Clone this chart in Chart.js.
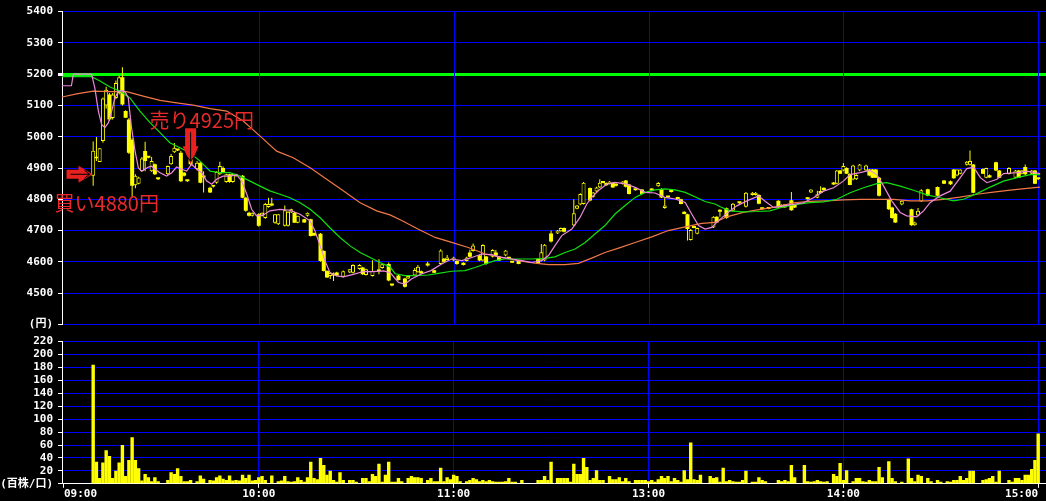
<!DOCTYPE html>
<html>
<head>
<meta charset="utf-8">
<script src="https://cdn.jsdelivr.net/npm/chart.js@4.4.0/dist/chart.umd.min.js"></script>
<style>
  html, body { margin: 0; padding: 0; background: #000; }
  #wrap { position: relative; width: 1046px; height: 501px; overflow: hidden; }
  .box { position: absolute; left: 0; width: 1046px; }
</style>
</head>
<body>
<div id="wrap">
  <div class="box" style="top:0;height:336px"><canvas id="price"></canvas></div>
  <div class="box" style="top:330px;height:171px"><canvas id="vol"></canvas></div>
</div>
<script>
// x = minutes of trading since 09:00 (11:30 and 12:30 share 150)
const hourMin = [0, 60, 120, 180, 240, 300];
const hourLab = ['09:00', '10:00', '11:00', '13:00', '14:00', '15:00'];

// 1-minute candles
const candleMin = [9,10,11,12,13,14,15,16,17,18,19,20,21,22,23,24,25,26,27,28,29,32,33,34,35,36,37,38,39,41,42,43,45,46,47,48,49,50,51,52,53,55,56,57,58,60,61,62,63,64,65,66,68,69,70,71,72,74,75,76,77,79,80,81,82,83,84,86,88,89,91,92,93,95,97,98,100,
  101,103,105,106,108,109,110,112,114,116,117,118,120,121,123,124,125,126,128,129,130,132,133,134,136,137,138,140,146,147,148,
  150,152,153,154,157,158,159,160,162,163,164,165,166,167,168,169,170,172,173,174,176,178,181,183,184,185,186,187,189,190,191,192,193,194,195,200,
  201,202,204,206,208,210,212,213,214,215,217,220,221,222,224,225,229,230,232,233,234,237,238,239,240,241,242,243,244,245,247,248,249,250,251,254,255,256,258,261,262,263,264,266,269,271,273,274,275,276,278,279,280,283,284,285,287,288,291,293,294,295,296,298,299,300];
const openP = [4875,4930,4919,4986,5100,5135,5060,5124,5140,5190,5082,5055,4990,4845,4850,4890,4954,4933,4890,4912,4866,4880,4912,4950,4958,4949,4885,4860,4933,4896,4917,4875,4837,4840,4853,4880,4900,4855,4880,4855,4874,4875,4805,4757,4747,4752,4747,4740,4775,4780,4725,4720,4715,4715,4758,4757,4725,4736,4747,4736,4692,4690,4635,4571,4555,4560,4566,4552,4566,4565,4577,4582,4558,4555,4570,4580,4593,
  4524,4556,4547,4547,4556,4567,4570,4590,4573,4593,4610,4606,4604,4603,4597,4603,4630,4635,4620,4604,4617,4616,4630,4617,4620,4611,4598,4604,4609,4604,4604,
  4691,4691,4698,4708,4716,4770,4783,4785,4836,4808,4825,4838,4852,4852,4849,4852,4849,4849,4860,4847,4829,4831,4832,4842,4833,4772,4806,4823,4806,4800,4760,4752,4670,4708,4690,4710,
  4744,4760,4771,4763,4787,4776,4814,4814,4814,4772,4769,4795,4782,4774,4797,4782,4800,4822,4805,4820,4837,4853,4850,4892,4892,4900,4881,4863,4864,4892,4892,4895,4895,4895,4869,4800,4774,4754,4783,4768,4717,4748,4793,4832,4839,4860,4858,4895,4876,4882,4910,4910,4911,4897,4869,4877,4918,4892,4881,4869,4892,4882,4903,4882,4892,4864];
const highP = [4985,4999,4963,5125,5160,5140,5140,5180,5195,5222,5085,5060,4995,4880,4872,4935,4984,4935,4935,4914,4866,4908,4945,4980,4960,4955,4887,4860,4935,4922,4920,4890,4840,4846,4890,4920,4905,4882,4882,4882,4882,4878,4808,4760,4758,4755,4758,4788,4805,4805,4752,4752,4780,4762,4770,4760,4747,4738,4758,4738,4694,4692,4637,4573,4566,4566,4568,4572,4577,4592,4592,4584,4578,4605,4608,4595,4598,
  4526,4558,4549,4556,4580,4590,4572,4600,4575,4640,4612,4622,4616,4605,4599,4616,4639,4659,4622,4656,4619,4640,4638,4619,4638,4612,4599,4606,4611,4657,4657,
  4700,4702,4710,4710,4800,4782,4819,4855,4838,4823,4840,4864,4853,4854,4858,4854,4851,4858,4862,4849,4830,4833,4835,4855,4835,4806,4807,4828,4808,4802,4762,4754,4705,4709,4710,4746,
  4746,4768,4774,4788,4788,4823,4823,4823,4816,4774,4770,4797,4784,4784,4823,4784,4807,4832,4827,4842,4838,4855,4894,4894,4916,4902,4883,4910,4880,4913,4910,4897,4897,4897,4871,4802,4776,4756,4797,4770,4728,4772,4832,4834,4841,4862,4860,4897,4896,4896,4922,4956,4913,4899,4901,4879,4920,4894,4902,4894,4894,4894,4911,4894,4894,4866];
const lowP = [4843,4922,4919,4981,5090,5050,5055,5120,5135,5100,5060,4945,4805,4835,4848,4888,4890,4931,4888,4878,4862,4878,4910,4948,4954,4855,4873,4856,4910,4893,4851,4822,4820,4838,4850,4878,4883,4853,4853,4853,4872,4803,4760,4745,4745,4712,4745,4738,4773,4778,4722,4718,4713,4713,4756,4725,4723,4725,4745,4681,4683,4600,4569,4548,4545,4539,4554,4550,4564,4563,4575,4558,4556,4553,4560,4578,4538,
  4522,4540,4518,4545,4554,4565,4562,4585,4564,4591,4598,4604,4602,4591,4588,4601,4614,4633,4602,4602,4591,4614,4618,4603,4618,4609,4596,4592,4593,4602,4602,
  4662,4689,4696,4694,4714,4768,4781,4783,4794,4806,4823,4836,4851,4843,4847,4837,4841,4847,4838,4815,4828,4816,4826,4840,4804,4770,4805,4822,4800,4784,4752,4668,4668,4707,4688,4708,
  4724,4744,4738,4761,4786,4774,4812,4812,4784,4766,4768,4772,4772,4772,4763,4772,4799,4820,4803,4819,4828,4846,4848,4881,4890,4881,4845,4861,4862,4890,4890,4874,4868,4868,4809,4766,4738,4724,4781,4715,4715,4746,4791,4810,4809,4849,4846,4866,4874,4880,4908,4908,4819,4881,4867,4869,4890,4868,4879,4867,4868,4880,4878,4880,4849,4862];
const closeP = [4955,4935,4963,5122,5150,5055,5135,5172,5190,5103,5061,4949,4843,4875,4870,4930,4922,4933,4922,4880,4864,4906,4938,4965,4956,4858,4875,4858,4912,4917,4853,4870,4822,4845,4887,4906,4885,4880,4855,4880,4880,4805,4763,4747,4757,4715,4757,4785,4785,4780,4752,4752,4765,4760,4768,4725,4747,4726,4757,4683,4684,4603,4571,4550,4564,4556,4556,4570,4576,4590,4590,4560,4576,4571,4575,4592,4540,
  4524,4542,4520,4555,4574,4584,4563,4588,4565,4636,4600,4614,4614,4593,4590,4614,4616,4652,4604,4654,4593,4638,4620,4604,4636,4610,4597,4593,4595,4631,4655,
  4665,4700,4708,4696,4755,4780,4817,4853,4796,4822,4838,4853,4852,4845,4857,4838,4843,4857,4840,4817,4829,4817,4828,4852,4806,4780,4806,4823,4801,4785,4753,4705,4702,4708,4708,4744,
  4726,4760,4740,4786,4787,4821,4821,4821,4786,4768,4769,4774,4774,4784,4765,4774,4800,4831,4816,4820,4829,4847,4892,4882,4906,4882,4846,4908,4878,4911,4908,4876,4869,4869,4811,4768,4740,4726,4795,4717,4726,4763,4829,4811,4811,4850,4848,4867,4895,4895,4920,4922,4821,4882,4900,4870,4892,4869,4900,4892,4869,4892,4880,4892,4850,4864];

// moving averages (pink = short, green = middle, orange = long)
const maShortMin = [-0.6,2.3,2.9,8.5,9.5,10.6,11.6,12.6,13.7,14.7,15.7,16.7,17.8,18.8,19.8,20.8,21.9,22.9,23.9,24.9,26,27,28,29.6,31.6,33.2,34.7,36.2,37.8,39.3,40.9,42.4,43.9,45.5,47,49,51.1,53.2,54.7,56.3,57.8,59.3,61.4,63.4,66.5,69.6,72.7,75.8,77.3,78.9,80.4,81.9,84,86,89.1,92.2,95.3,98.4,
  100.5,103,105,107,110,113,116.3,119.4,122.5,125.6,128.6,131.7,134.8,137.9,141,144,147.1,149.2,151.2,153.3,156.4,158.9,161,162.5,164.6,167.2,169.7,172.8,175.9,179,182,185,188.2,191.3,193.3,195.4,197.4,
  199.5,201,204.1,207.2,210.3,213.9,216,218.5,221.5,224.6,227.7,230.8,233.9,237,240,242.1,245.1,248.1,250.3,252.4,254.9,257.5,259.5,262.6,264.7,266.7,269.8,272.9,276,278,280.1,282.2,284.2,287.3,289.3,293.5,296.5,300.6];
const maShortVal = [5163,5163,5200,5200,5156,5082,5039,5029,5045,5082,5125,5144,5148,5144,5125,5029,4954,4901,4890,4896,4903,4906,4896,4885,4874,4885,4903,4896,4890,4912,4896,4885,4859,4848,4864,4874,4874,4878,4859,4816,4768,4747,4750,4763,4768,4765,4752,4731,4699,4651,4603,4566,4555,4552,4560,4569,4569,4571,
  4565,4534,4529,4545,4561,4572,4593,4609,4604,4614,4625,4623,4614,4609,4604,4598,4604,4620,4652,4684,4705,4742,4785,4806,4828,4849,4854,4849,4838,4822,4820,4806,4801,4790,4753,4716,4705,
  4710,4726,4755,4779,4795,4811,4793,4774,4779,4784,4789,4805,4826,4837,4858,4879,4885,4892,4879,4842,4795,4758,4747,4744,4763,4789,4811,4826,4869,4898,4903,4869,4853,4864,4882,4885,4890,4882];
const maMidMin = [-0.6,8.5,11.1,14.2,17.2,20.3,23.4,26.5,29.6,32.6,35.7,38.8,41.9,45,48,51.1,54.2,57.3,60.4,63.4,66.5,69.6,72.7,75.8,78.9,81.9,85,88.1,91.2,94.3,97.3,100.4,
  102,105,108,112.2,115.3,119.4,123.5,126.6,129.6,132.7,135.8,139.9,144,148.1,151.2,154.3,157.4,160.5,163.5,166.6,169.7,172.8,175.9,179,182,185.1,188.2,191.3,194.3,197.4,200.5,
  202.1,205.1,209.2,213.3,217.4,221.6,225.7,229.8,233.9,238,242.1,246.2,250.3,253.4,257.5,261.6,265.7,269.8,273.9,277,281.1,285.2,289.3,293.5,297.5,300.6];
const maMidVal = [5192,5192,5178,5159,5146,5124,5082,5045,5013,4981,4965,4949,4922,4890,4885,4885,4874,4858,4842,4827,4816,4805,4789,4768,4741,4709,4678,4651,4630,4614,4598,4584,
  4562,4556,4556,4558,4563,4570,4572,4582,4593,4604,4609,4609,4609,4611,4616,4630,4641,4662,4689,4716,4753,4780,4806,4822,4830,4833,4830,4822,4808,4793,4785,
  4776,4763,4760,4761,4763,4776,4784,4789,4792,4800,4821,4837,4850,4853,4842,4829,4814,4805,4795,4800,4818,4839,4858,4869,4879,4879];
const maLongMin = [-0.6,3.9,9,14.2,19.3,24.4,29.6,34.7,39.8,45,50.1,55.2,60.4,65.5,70.6,75.8,80.9,86,91.2,96.3,100.4,104,109,114.3,119.4,124.5,129.7,134.8,139.9,145,149.2,154.3,158.4,162.5,166.6,170.8,175.9,181,186.1,191.3,196.4,200.5,
  204.1,209.2,214.4,219.5,224.6,229.8,234.9,240,245.2,250.3,255.5,260.6,265.7,270.8,275.9,281.1,286.2,291.4,296.5,300.6];
const maLongVal = [5127,5137,5146,5144,5144,5130,5116,5108,5101,5090,5082,5050,5002,4954,4933,4901,4864,4827,4789,4763,4750,4732,4705,4678,4662,4646,4625,4614,4604,4596,4591,4591,4595,4612,4630,4644,4662,4680,4700,4712,4723,4726,
  4744,4758,4768,4776,4789,4793,4795,4798,4800,4800,4800,4795,4795,4800,4807,4816,4823,4829,4835,4839];

// volume (hundreds of shares)
const volMin = [9,10,11,12,13,14,15,16,17,18,19,20,21,22,23,24,25,26,27,28,29,32,33,34,35,36,37,38,39,41,42,43,45,46,47,48,49,50,51,52,53,54,55,56,57,58,59,60,
  61,62,64,66,67,68,69,70,71,72,73,74,75,76,77,78,79,80,81,82,83,84,85,86,88,89,90,92,93,94,95,96,97,98,99,100,101,102,103,104,106,107,108,109,110,112,113,114,115,116,117,118,119,120,121,122,124,125,126,127,128,129,130,131,132,133,134,135,136,137,138,139,141,146,147,148,149,
  150,152,153,154,155,156,157,158,159,160,161,162,163,164,165,166,168,169,170,171,172,173,174,176,177,178,179,180,181,182,183,184,185,186,187,188,189,190,191,192,193,194,195,196,199,200,
  201,202,203,204,205,206,207,208,209,210,212,213,214,215,216,220,221,222,223,224,225,228,229,230,231,232,233,234,235,237,238,239,240,241,243,244,245,246,247,248,249,250,251,252,254,255,256,258,260,261,262,263,264,266,267,269,270,272,273,274,275,276,277,278,279,280,283,284,285,286,287,288,291,292,293,294,295,296,297,298,299,300];
const volVal = [184,34,9,33,52,43,9,20,33,60,12,37,72,37,24,5,15,10,4,10,4,6,18,15,24,12,4,4,6,4,13,8,6,5,10,13,8,6,13,5,6,5,14,9,14,5,6,10,
  12,6,13,4,5,12,4,3,4,10,6,3,10,34,9,7,40,29,14,20,6,3,18,6,6,6,3,9,9,4,15,12,31,3,14,34,3,3,9,4,9,12,10,10,9,6,9,4,4,25,4,10,7,14,12,4,4,6,9,7,4,6,4,6,4,3,3,3,4,9,3,3,6,6,6,12,6,
  34,9,9,9,9,3,31,15,15,40,26,6,9,21,6,6,12,7,7,10,4,9,4,6,6,6,6,4,6,3,7,12,9,12,4,9,6,3,21,7,64,7,6,14,12,9,
  10,3,25,4,6,4,3,3,6,20,3,3,10,6,4,6,4,6,4,29,10,29,4,3,4,6,4,3,4,15,12,32,6,21,4,9,9,4,3,6,4,4,26,10,35,9,4,3,39,9,4,14,12,9,4,6,3,4,3,6,6,12,6,9,20,20,6,7,9,12,3,20,6,3,9,9,6,14,14,23,37,78];

// trades marked on the chart
const buyMin = 8.8, buyPrice = 4880, buyText = '買い4880円';
const sellMin = 39, sellPrice = 4925, sellText = '売り4925円';

const tickFont = { family: '"DejaVu Sans Mono", "Noto Sans CJK JP", monospace', size: 11, weight: 'bold' };
const yellow = '#ffff00';
const blue = '#0000ff';
const clear = 'rgba(0,0,0,0)';

const wicks = [], upBodies = [], downBodies = [];
candleMin.forEach((m, i) => {
  wicks.push({ x: m, y: [lowP[i], highP[i]] });
  const body = { x: m, y: [openP[i], closeP[i]] };
  if (closeP[i] > openP[i]) upBodies.push(body); else downBodies.push(body);
});
const pts = (xs, ys) => xs.map((x, i) => ({ x: x, y: ys[i] }));

function xAxis(withLabels) {
  return {
    type: 'linear', min: -0.6, max: 302.4, offset: false,
    afterBuildTicks: s => { s.ticks = hourMin.map(v => ({ value: v })); },
    grid: {
      display: withLabels, offset: false,
      color: c => (c.tick && c.tick.value > 0) ? blue : clear,
      tickColor: '#fff', tickLength: 4
    },
    border: { display: withLabels, color: '#fff' },
    ticks: {
      display: withLabels, align: 'inner', padding: 0, color: '#fff', font: tickFont,
      maxRotation: 0, autoSkip: false,
      callback: v => hourLab[hourMin.indexOf(v)]
    }
  };
}

// hour lines of the price panel, placed through the x scale
const hourLines = {
  id: 'hourLines',
  beforeDatasetsDraw(chart) {
    const { ctx, chartArea: a, scales: { x } } = chart;
    ctx.save();
    ctx.strokeStyle = blue;
    ctx.lineWidth = 1;
    hourMin.filter(v => v > 0).forEach(v => {
      const px = Math.round(x.getPixelForValue(v)) + 0.5;
      ctx.beginPath();
      ctx.moveTo(px, a.top);
      ctx.lineTo(px, a.bottom);
      ctx.stroke();
    });
    ctx.restore();
  }
};

function drawRightArrow(ctx, tx, ty) {
  ctx.fillStyle = '#e82020';
  ctx.beginPath();
  ctx.moveTo(tx - 26, ty - 4.5); ctx.lineTo(tx - 14, ty - 4.5); ctx.lineTo(tx - 14, ty - 8.5);
  ctx.lineTo(tx, ty); ctx.lineTo(tx - 14, ty + 8.5); ctx.lineTo(tx - 14, ty + 4.5); ctx.lineTo(tx - 26, ty + 4.5);
  ctx.closePath(); ctx.fill();
  ctx.strokeStyle = '#000'; ctx.lineWidth = 1;
  ctx.beginPath();
  ctx.moveTo(tx - 22, ty); ctx.lineTo(tx - 3, ty);
  ctx.moveTo(tx - 8, ty - 4); ctx.lineTo(tx - 3, ty); ctx.lineTo(tx - 8, ty + 4);
  ctx.stroke();
}

function drawDownArrow(ctx, tx, ty) {
  ctx.fillStyle = '#e82020';
  ctx.beginPath();
  ctx.moveTo(tx - 5.5, ty - 36); ctx.lineTo(tx + 5.5, ty - 36); ctx.lineTo(tx + 5.5, ty - 18);
  ctx.lineTo(tx + 8, ty - 18); ctx.lineTo(tx, ty); ctx.lineTo(tx - 8, ty - 18); ctx.lineTo(tx - 5.5, ty - 18);
  ctx.closePath(); ctx.fill();
  ctx.strokeStyle = '#000'; ctx.lineWidth = 1;
  ctx.beginPath();
  ctx.moveTo(tx, ty - 32); ctx.lineTo(tx, ty - 3);
  ctx.moveTo(tx - 4, ty - 8); ctx.lineTo(tx, ty - 3); ctx.lineTo(tx + 4, ty - 8);
  ctx.stroke();
}

const tradeMarks = {
  id: 'tradeMarks',
  afterDatasetsDraw(chart) {
    const { ctx, scales: { x, y } } = chart;
    ctx.save();
    const bx = x.getPixelForValue(buyMin), by = y.getPixelForValue(buyPrice);
    const sx = x.getPixelForValue(sellMin), sy = y.getPixelForValue(sellPrice) + 4;
    drawRightArrow(ctx, bx, by);
    drawDownArrow(ctx, sx, sy);
    ctx.font = '20px "Noto Sans CJK JP"';
    ctx.fillStyle = '#e82a2a';
    ctx.textAlign = 'left';
    ctx.textBaseline = 'middle';
    ctx.fillText(buyText, bx - 38, by + 29);
    ctx.fillText(sellText, sx - 41, sy - 44);
    ctx.restore();
  }
};

const common = {
  responsive: true, maintainAspectRatio: false, animation: false, events: [],
  plugins: { legend: { display: false }, tooltip: { enabled: false } }
};

new Chart(document.getElementById('price'), {
  type: 'bar',
  data: {
    datasets: [
      { type: 'line', data: pts(maShortMin, maShortVal), borderColor: '#ee88dd', borderWidth: 1.2, pointRadius: 0 },
      { type: 'line', data: pts(maMidMin, maMidVal), borderColor: '#10e010', borderWidth: 1.2, pointRadius: 0 },
      { type: 'line', data: pts(maLongMin, maLongVal), borderColor: '#f07848', borderWidth: 1.2, pointRadius: 0 },
      { data: upBodies, grouped: false, barThickness: 4, minBarLength: 2, backgroundColor: '#000', borderColor: yellow, borderWidth: 1, borderSkipped: false, inflateAmount: 0 },
      { data: downBodies, grouped: false, barThickness: 4, minBarLength: 2, backgroundColor: yellow, borderWidth: 0, inflateAmount: 0 },
      { data: wicks, grouped: false, barThickness: 1, backgroundColor: yellow, borderWidth: 0, inflateAmount: 0 }
    ]
  },
  options: Object.assign({}, common, {
    layout: { padding: { top: 11, bottom: 0, left: 0, right: 0 } },
    scales: {
      x: xAxis(false),
      y: {
        min: 4400, max: 5400,
        afterFit: s => { s.width = 62; },
        ticks: { stepSize: 100, autoSkip: false, color: '#fff', font: tickFont, padding: 5, callback: v => v === 4400 ? '(円)' : v },
        grid: {
          color: c => c.tick.value === 5200 ? '#00ff00' : blue,
          lineWidth: c => c.tick.value === 5200 ? 3 : 1,
          tickColor: '#fff', tickLength: 4
        },
        border: { color: '#fff' }
      }
    }
  }),
  plugins: [hourLines, tradeMarks]
});

new Chart(document.getElementById('vol'), {
  type: 'bar',
  data: {
    datasets: [
      { data: pts(volMin, volVal), barThickness: 3.4, backgroundColor: yellow, borderWidth: 0, inflateAmount: 0 }
    ]
  },
  options: Object.assign({}, common, {
    layout: { padding: { top: 8, bottom: 0, left: 0, right: 0 } },
    scales: {
      x: xAxis(true),
      y: {
        min: 0, max: 220,
        afterFit: s => { s.width = 62; },
        ticks: { stepSize: 20, autoSkip: false, color: '#fff', font: tickFont, padding: 5, callback: v => v === 0 ? '(百株/口)' : v },
        grid: { color: blue, tickColor: '#fff', tickLength: 4 },
        border: { color: '#fff' }
      }
    }
  })
});
</script>
</body>
</html>
